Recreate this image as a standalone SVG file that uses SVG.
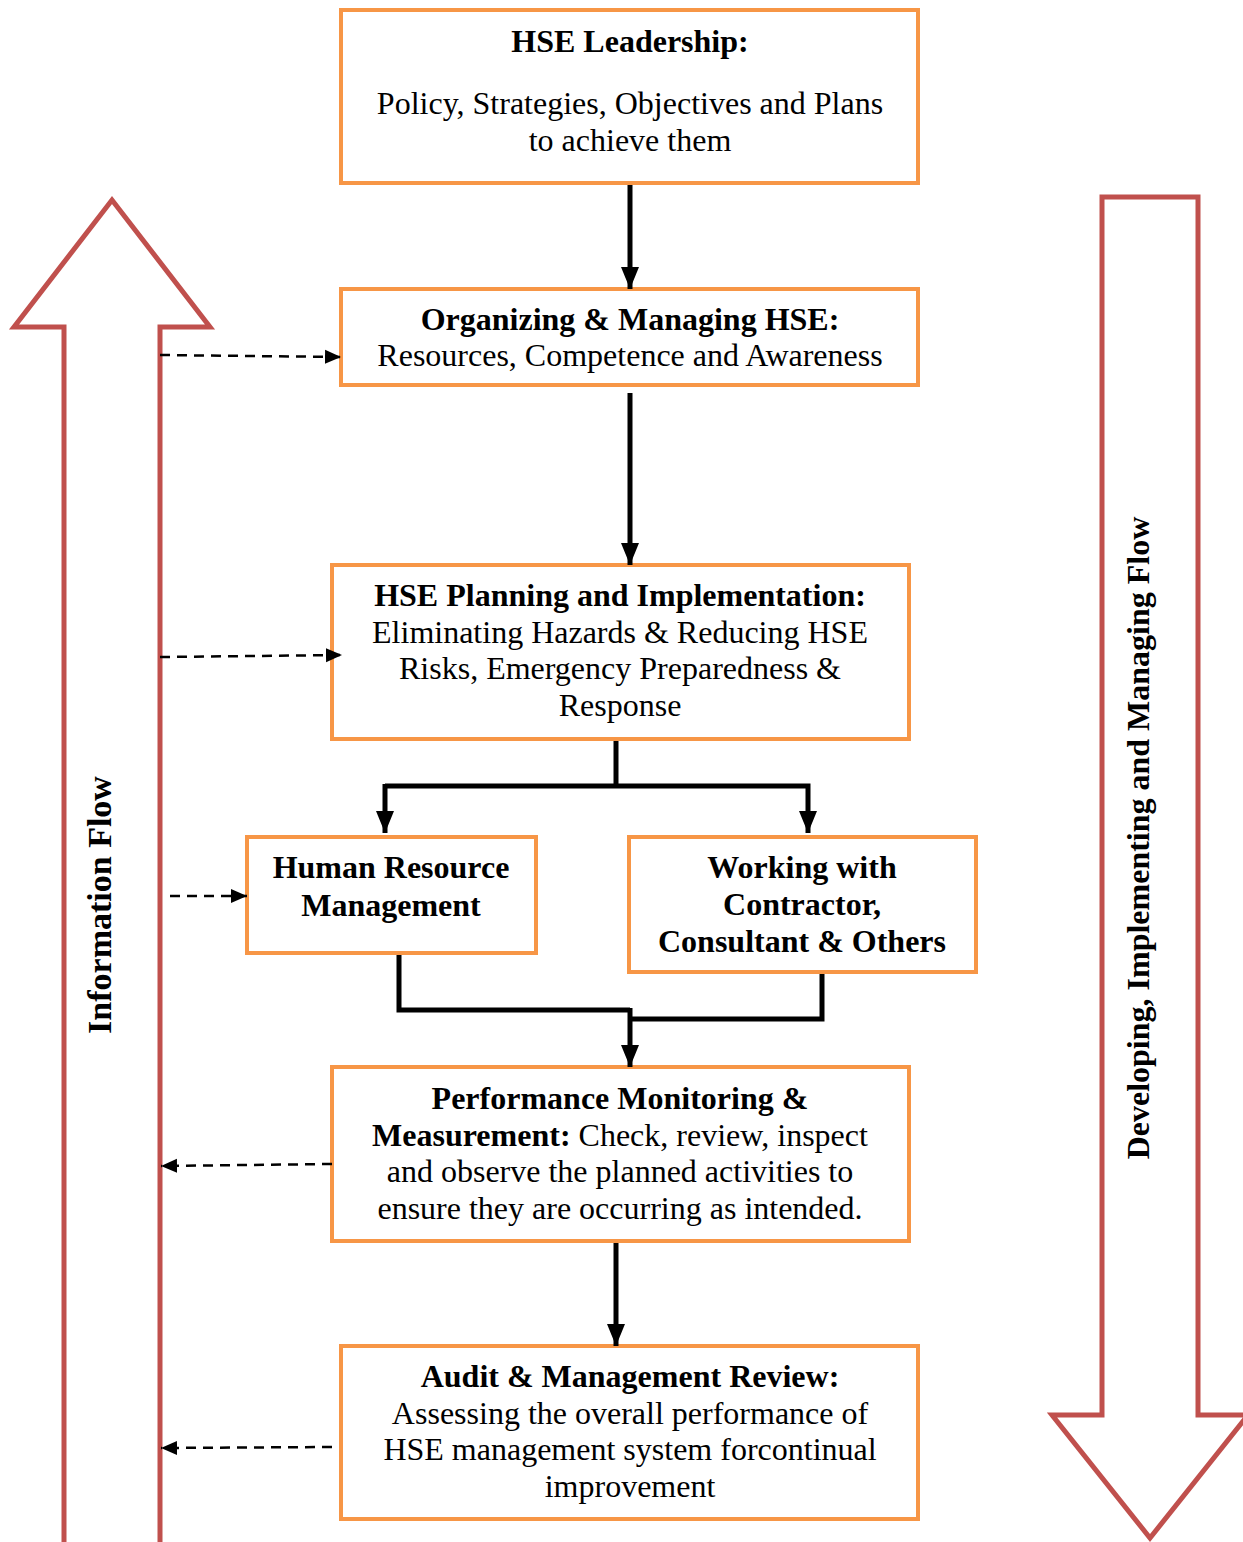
<svg xmlns="http://www.w3.org/2000/svg" width="1243" height="1542" viewBox="0 0 1243 1542">
<style>
.box{fill:#fff;stroke:#F79646;stroke-width:4}
.big{fill:none;stroke:#C0504D;stroke-width:5;stroke-linejoin:miter}
.t{font-family:"Liberation Serif","Times New Roman",serif;font-size:32px;fill:#000;text-anchor:middle}
.b{font-weight:bold}
.c{fill:none;stroke:#000;stroke-width:5}
.d{fill:none;stroke:#000;stroke-width:2.5;stroke-dasharray:10,7}
</style>
<defs>
<marker id="ah" markerUnits="userSpaceOnUse" markerWidth="22" markerHeight="20" viewBox="0 0 22 20" refX="22" refY="10" orient="auto">
<path d="M0,1 L22,10 L0,19 Z" fill="#000"/>
</marker>
<marker id="dh" markerUnits="userSpaceOnUse" markerWidth="16" markerHeight="16" viewBox="0 0 16 16" refX="16" refY="8" orient="auto">
<path d="M0,1 L16,8 L0,15 Z" fill="#000"/>
</marker>
</defs>

<g id="info-flow">
<path class="big" d="M64,1545 L64,327 L14,327 L112,200 L210,327 L160,327 L160,1545"/>
<text class="t b" style="font-size:34px" transform="translate(111,905) rotate(-90)">Information Flow</text>
</g>
<g id="dev-flow">
<path class="big" d="M1102,1415 L1102,197 L1198,197 L1198,1415 L1248,1415 L1150,1538 L1052,1415 Z"/>
<text class="t b" transform="translate(1149,838) rotate(-90)">Developing, Implementing and Managing Flow</text>
</g>

<g id="hse-leadership">
<rect class="box" x="341" y="10" width="577" height="173"/>
<text class="t b" x="630" y="52">HSE Leadership:</text>
<text class="t" x="630" y="114">Policy, Strategies, Objectives and Plans</text>
<text class="t" x="630" y="151">to achieve them</text>
</g>
<g id="organizing">
<rect class="box" x="341" y="289" width="577" height="96"/>
<text class="t b" x="630" y="330">Organizing &amp; Managing HSE:</text>
<text class="t" x="630" y="366">Resources, Competence and Awareness</text>
</g>
<g id="planning">
<rect class="box" x="332" y="565" width="577" height="174"/>
<text class="t b" x="620" y="606">HSE Planning and Implementation:</text>
<text class="t" x="620" y="643">Eliminating Hazards &amp; Reducing HSE</text>
<text class="t" x="620" y="679">Risks, Emergency Preparedness &amp;</text>
<text class="t" x="620" y="716">Response</text>
</g>
<g id="hr">
<rect class="box" x="247" y="837" width="289" height="116"/>
<text class="t b" x="391" y="878">Human Resource</text>
<text class="t b" x="391" y="916">Management</text>
</g>
<g id="contractor">
<rect class="box" x="629" y="837" width="347" height="135"/>
<text class="t b" x="802" y="878">Working with</text>
<text class="t b" x="802" y="915">Contractor,</text>
<text class="t b" x="802" y="952">Consultant &amp; Others</text>
</g>
<g id="performance">
<rect class="box" x="332" y="1067" width="577" height="174"/>
<text class="t b" x="620" y="1109">Performance Monitoring &amp;</text>
<text class="t" x="620" y="1146"><tspan class="b">Measurement:</tspan> Check, review, inspect</text>
<text class="t" x="620" y="1182">and observe the planned activities to</text>
<text class="t" x="620" y="1219">ensure they are occurring as intended.</text>
</g>
<g id="audit">
<rect class="box" x="341" y="1346" width="577" height="173"/>
<text class="t b" x="630" y="1387">Audit &amp; Management Review:</text>
<text class="t" x="630" y="1424">Assessing the overall performance of</text>
<text class="t" x="630" y="1460">HSE management system forcontinual</text>
<text class="t" x="630" y="1497">improvement</text>
</g>

<g id="connectors">
<line class="c" x1="630" y1="185" x2="630" y2="289" marker-end="url(#ah)"/>
<line class="c" x1="630" y1="393" x2="630" y2="565" marker-end="url(#ah)"/>
<polyline class="c" points="616,741 616,786"/>
<polyline class="c" points="385,786 808,786 808,833" marker-end="url(#ah)"/>
<line class="c" x1="385" y1="784" x2="385" y2="833" marker-end="url(#ah)"/>
<polyline class="c" points="399,955 399,1010 630,1010"/>
<polyline class="c" points="822,974 822,1019 630,1019"/>
<line class="c" x1="630" y1="1008" x2="630" y2="1067" marker-end="url(#ah)"/>
<line class="c" x1="616" y1="1243" x2="616" y2="1346" marker-end="url(#ah)"/>
<line class="d" x1="160" y1="355" x2="341" y2="357" marker-end="url(#dh)"/>
<line class="d" x1="160" y1="657" x2="342" y2="655" marker-end="url(#dh)"/>
<line class="d" x1="170" y1="896" x2="247" y2="896" marker-end="url(#dh)"/>
<line class="d" x1="332" y1="1164" x2="161" y2="1166" marker-end="url(#dh)"/>
<line class="d" x1="332" y1="1447" x2="161" y2="1448" marker-end="url(#dh)"/>
</g>
</svg>
